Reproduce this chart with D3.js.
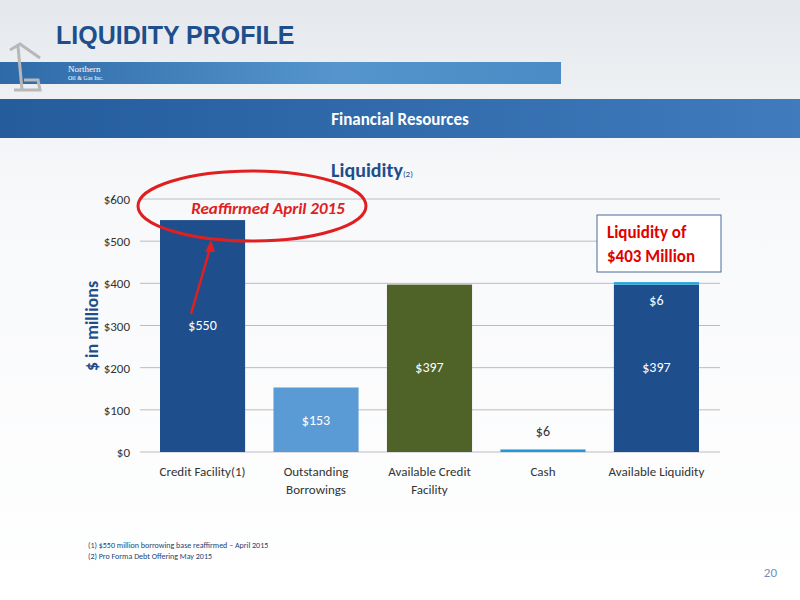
<!DOCTYPE html>
<html><head><meta charset="utf-8">
<script src="https://cdn.jsdelivr.net/npm/d3@7"></script>
<style>body{margin:0;}svg{display:block;font-family:Calibri,Carlito,"Open Sans",sans-serif;}</style>
</head><body><svg id="c" width="800" height="600"></svg>
<script>
const categories = [["Credit Facility(1)"],["Outstanding","Borrowings"],["Available Credit","Facility"],["Cash"],["Available Liquidity"]];
const baseValues = [550,153,397,6,397];
const topValues = [0,0,0,0,6];
const barColors = ["#1f4e8c","#5b9bd5","#4f6228","#1e9ad6","#1f4e8c"];
const yTicks = [0,100,200,300,400,500,600];

const svg = d3.select("#c");
const defs = svg.append("defs");
const g1 = defs.append("linearGradient").attr("id","bg").attr("x1",0).attr("y1",0).attr("x2",0).attr("y2",1);
g1.append("stop").attr("offset",0).attr("stop-color","#e4e8ec");
g1.append("stop").attr("offset",0.3).attr("stop-color","#f7f8fa");
g1.append("stop").attr("offset",1).attr("stop-color","#ffffff");
svg.append("rect").attr("width",800).attr("height",600).attr("fill","url(#bg)");
const g2 = defs.append("linearGradient").attr("id","strip");
g2.append("stop").attr("offset",0).attr("stop-color","#2e6aa8");
g2.append("stop").attr("offset",0.6).attr("stop-color","#5595cc");
g2.append("stop").attr("offset",1).attr("stop-color","#4b8bc6");
svg.append("rect").attr("x",0).attr("y",62).attr("width",561).attr("height",22).attr("fill","url(#strip)");
const g3 = defs.append("linearGradient").attr("id","band");
g3.append("stop").attr("offset",0).attr("stop-color","#245c9c");
g3.append("stop").attr("offset",1).attr("stop-color","#3f7bbd");
svg.append("rect").attr("x",0).attr("y",99).attr("width",800).attr("height",39).attr("fill","url(#band)");
svg.append("text").attr("x",56).attr("y",44).attr("font-size",25).attr("font-weight","bold").attr("fill","#1f4e8c").attr("font-family","Liberation Sans,Arial").text("LIQUIDITY PROFILE");
svg.append("text").attr("x",68).attr("y",72).attr("font-size",9).attr("fill","#fff").attr("font-family","Liberation Serif").text("Northern");
svg.append("text").attr("x",68).attr("y",80).attr("font-size",6).attr("fill","#fff").attr("font-family","Liberation Serif").text("Oil & Gas Inc.");
svg.append("path").attr("d","M10,50 L20,44 L40,58 M18,46 L22,90 M14,90 L40,90 L38,80 L24,80").attr("stroke","#b8b8b8").attr("stroke-width",3).attr("fill","none");
svg.append("text").attr("x",400).attr("y",125).attr("text-anchor","middle").attr("font-size",17).attr("font-weight","bold").attr("fill","#fff").text("Financial Resources");

const x = d3.scaleBand().domain(d3.range(5)).range([160,699]).paddingInner(0.25).paddingOuter(0);
const y = d3.scaleLinear().domain([0,600]).range([452,199]);
const ch = svg.append("g");
yTicks.forEach(t=>{
  ch.append("line").attr("x1",140).attr("x2",720).attr("y1",y(t)).attr("y2",y(t)).attr("stroke","#b8bcc6").attr("stroke-width",1);
  ch.append("text").attr("x",130).attr("y",y(t)+5).attr("text-anchor","end").attr("font-size",13).attr("fill","#333").text("$"+t);
});
ch.selectAll(".b").data(baseValues).join("rect").attr("x",(d,i)=>x(i)).attr("width",x.bandwidth())
  .attr("y",d=>y(d)).attr("height",d=>y(0)-y(d)).attr("fill",(d,i)=>barColors[i]);
ch.selectAll(".t").data(topValues).join("rect").filter(d=>d>0).attr("x",(d,i)=>x(4)).attr("width",x.bandwidth())
  .attr("y",d=>y(baseValues[4]+d)).attr("height",d=>y(0)-y(d)).attr("fill","#29a8e0");
const lbl = [[0,550,330],[1,153,425],[2,397,372],[3,6,436],[4,397,372],[4,6,305]];
lbl.forEach(([i,v,yy])=>{
  ch.append("text").attr("x",x(i)+x.bandwidth()/2).attr("y",yy).attr("text-anchor","middle").attr("font-size",14)
    .attr("fill",i===3?"#333":"#fff").text("$"+v);
});
categories.forEach((c,i)=>{
  c.forEach((l,k)=>ch.append("text").attr("x",x(i)+x.bandwidth()/2).attr("y",476+k*18).attr("text-anchor","middle").attr("font-size",13).attr("fill","#333").text(l));
});
svg.append("text").attr("transform","translate(98,326) rotate(-90)").attr("text-anchor","middle").attr("font-size",18).attr("font-weight","bold").attr("fill","#1f4e8c").text("$ in millions");
const tt = svg.append("text").attr("x",372).attr("y",177).attr("text-anchor","middle").attr("font-size",20).attr("font-weight","bold").attr("fill","#1f4e8c");
tt.append("tspan").text("Liquidity");
tt.append("tspan").attr("font-size",9).attr("font-weight","normal").text("(2)");
svg.append("ellipse").attr("cx",252).attr("cy",206).attr("rx",114).attr("ry",35).attr("fill","none").attr("stroke","#e02020").attr("stroke-width",3);
svg.append("text").attr("x",268).attr("y",214).attr("text-anchor","middle").attr("font-size",17).attr("font-weight","bold").attr("font-style","italic").attr("fill","#e02020").text("Reaffirmed April 2015");
svg.append("line").attr("x1",191).attr("y1",314).attr("x2",211).attr("y2",245).attr("stroke","#e02020").attr("stroke-width",2.5);
svg.append("path").attr("d","M211,240 L205,252 L215,252 Z").attr("fill","#e02020");
svg.append("rect").attr("x",597).attr("y",215).attr("width",124).attr("height",57).attr("fill","#fff").attr("stroke","#4a6a9a").attr("stroke-width",1);
svg.append("text").attr("x",607).attr("y",238).attr("font-size",17).attr("font-weight","bold").attr("fill","#e00000").text("Liquidity of");
svg.append("text").attr("x",607).attr("y",262).attr("font-size",17).attr("font-weight","bold").attr("fill","#e00000").text("$403 Million");
svg.append("text").attr("x",88).attr("y",548).attr("font-size",8).attr("fill","#1f3f6f").text("(1)    $550 million borrowing base reaffirmed – April 2015");
svg.append("text").attr("x",88).attr("y",559).attr("font-size",8).attr("fill","#1f3f6f").text("(2)    Pro Forma Debt Offering May 2015");
svg.append("text").attr("x",777).attr("y",577).attr("text-anchor","end").attr("font-size",13).attr("fill","#6a90c0").text("20");
</script></body></html>
